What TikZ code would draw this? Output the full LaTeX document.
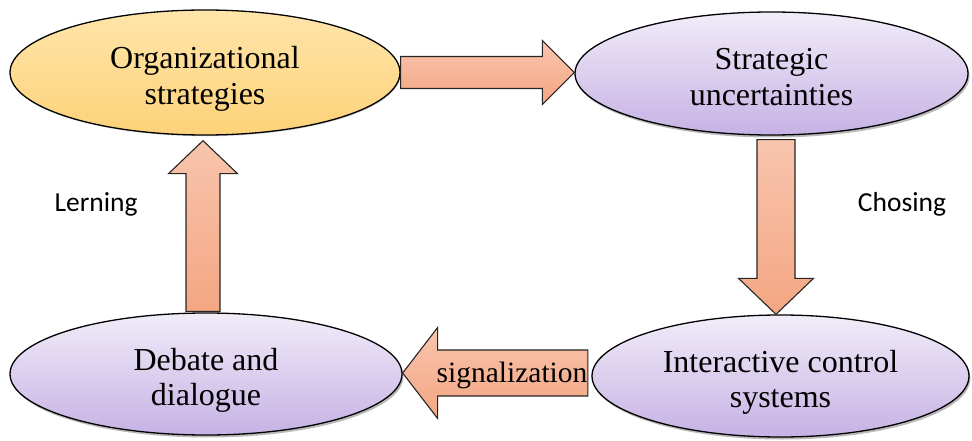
\documentclass[tikz,border=0pt]{standalone}
\usepackage{fontspec}
\setmainfont{Liberation Serif}
\newfontfamily\labelfont{Carlito}
\usetikzlibrary{shapes.geometric,calc,shadows}
\definecolor{ylTop}{HTML}{FEE5AA}
\definecolor{ylBot}{HTML}{FDD279}
\definecolor{puTop}{HTML}{F1ECF9}
\definecolor{puBot}{HTML}{C6B2E4}
\definecolor{arTop}{HTML}{F8C5AE}
\definecolor{arBot}{HTML}{F4A682}
\newcommand\elltext[1]{\raisebox{-7pt}[\height][\depth]{\begin{tabular}{@{}c@{}}#1\end{tabular}}}
\begin{document}
\begin{tikzpicture}[x=1pt,y=1pt,
  ell/.style={ellipse, draw=black, line width=1.3pt, inner sep=0pt,
    font=\fontsize{32}{35.5}\selectfont},
  yel/.style={ell, top color=ylTop, bottom color=ylBot,
    drop shadow={shadow xshift=0.8pt, shadow yshift=-1.2pt, opacity=0.35, fill=black!60}},
  pur/.style={ell, top color=puTop, bottom color=puBot,
    drop shadow={shadow xshift=1.5pt, shadow yshift=-2.5pt, opacity=0.45, fill=black!60}},
  blk/.style n args={3}{draw=black!85, line width=1.1pt, top color=arTop, bottom color=arBot,
    to path={let \p1=(\tikztostart), \p2=(\tikztotarget),
      \n1={atan2(\y2-\y1,\x2-\x1)}, \n2={veclen(\x2-\x1,\y2-\y1)} in
      ([shift={(\p1)},rotate=\n1]0pt,#1pt)
      -- ([shift={(\p1)},rotate=\n1]\n2-#3pt,#1pt)
      -- ([shift={(\p1)},rotate=\n1]\n2-#3pt,#2pt)
      -- ([shift={(\p1)},rotate=\n1]\n2,0pt)
      -- ([shift={(\p1)},rotate=\n1]\n2-#3pt,-#2pt)
      -- ([shift={(\p1)},rotate=\n1]\n2-#3pt,-#1pt)
      -- ([shift={(\p1)},rotate=\n1]0pt,-#1pt) -- cycle}},
  lbl/.style={font=\labelfont\fontsize{27.5}{33}\selectfont, anchor=base, inner sep=0pt},
  sigtext/.style={font=\fontsize{29.5}{33}\selectfont, anchor=base, inner sep=0pt}
]
\useasboundingbox (0,0) rectangle (972,440);

\node[yel, minimum width=390pt, minimum height=125pt] (org) at (205,367.5) {\elltext{Organizational\\strategies}};
\node[pur, minimum width=393pt, minimum height=123pt] (unc) at (771.5,366.5) {\elltext{Strategic\\uncertainties}};
\node[pur, minimum width=392pt, minimum height=122pt] (deb) at (206,66) {\elltext{Debate and\\dialogue}};
\node[pur, minimum width=377pt, minimum height=122pt] (ics) at (780.5,64) {\elltext{Interactive control\\systems}};

\path[blk={16}{32}{32}] (org.east) to (org.east -| unc.west);
\path[blk={19}{37.5}{36}] ([xshift=4.5pt,yshift=-4pt]unc.south) to ([xshift=-4.5pt]ics.north);
\path[blk={17}{34.5}{33}] ([xshift=-3pt,yshift=1pt]deb.north) to ([xshift=-2pt,yshift=-5pt]org.south);
\path[blk={23}{45.5}{35}] ([xshift=-3.5pt,yshift=3pt]ics.west) to ([yshift=1pt]deb.east);

\node[sigtext] (sig) at (512,58) {signalization};
\node[lbl] (lrn) at (96,229) {Lerning};
\node[lbl] (cho) at (902,229) {Chosing};
\end{tikzpicture}
\end{document}
